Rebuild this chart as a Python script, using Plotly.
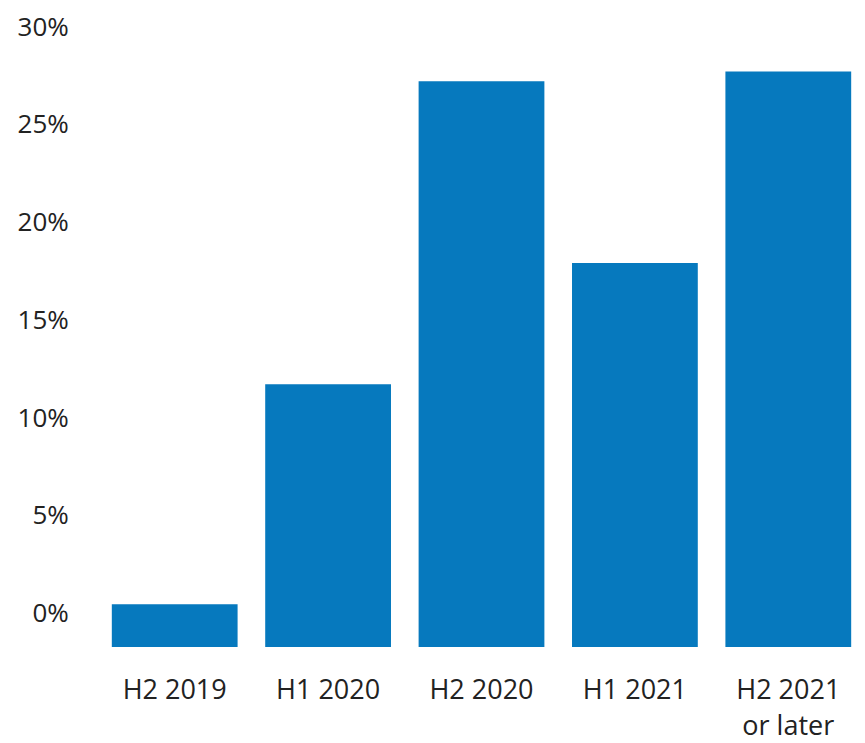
import plotly.graph_objects as go

categories = ["H2 2019", "H1 2020", "H2 2020", "H1 2021", "H2 2021<br>or later"]
values = [0.45, 11.7, 27.2, 17.9, 27.7]
axis_min = -1.73
axis_max = 30.79
tick_vals = [0, 5, 10, 15, 20, 25, 30]
tick_text = ["0%", "5%", "10%", "15%", "20%", "25%", "30%"]

bar_color = "#0679BE"
font_family = "Open Sans"

fig = go.Figure(
    go.Bar(
        x=categories,
        y=[v - axis_min for v in values],
        base=axis_min,
        marker=dict(color=bar_color, line=dict(width=0)),
        hoverinfo="skip",
    )
)

fig.update_layout(
    width=857,
    height=735,
    margin=dict(l=90, r=0, t=0, b=95),
    paper_bgcolor="white",
    plot_bgcolor="white",
    bargap=0.18,
    showlegend=False,
    font=dict(family=font_family, size=26, color="#222222"),
)
fig.update_xaxes(
    showgrid=False,
    showline=False,
    zeroline=False,
    ticks="outside",
    ticklen=19,
    tickcolor="rgba(0,0,0,0)",
    tickfont=dict(size=27),
)
fig.update_yaxes(
    range=[axis_min, axis_max],
    showgrid=False,
    showline=False,
    zeroline=False,
    tickvals=tick_vals,
    ticktext=tick_text,
    ticks="outside",
    ticklen=23,
    tickcolor="rgba(0,0,0,0)",
    tickfont=dict(size=26),
    ticklabeloverflow="allow",
)

fig.write_html("out.html")
